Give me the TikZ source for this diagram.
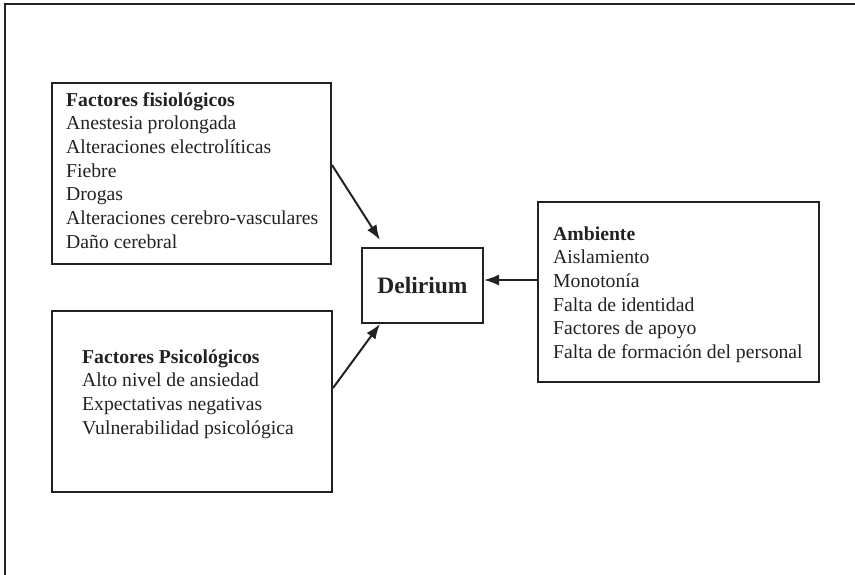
\documentclass[tikz,border=0pt]{standalone}
\usepackage{fontspec}
\setmainfont{Liberation Serif}
\usetikzlibrary{arrows.meta}

\definecolor{ink}{HTML}{222222}

\tikzset{
  panel/.style={draw=ink, line width=2pt, rectangle, inner sep=0pt, anchor=north west},
  % anchored at the baseline of the last line
  listtext/.style={anchor=base west, align=left, inner sep=0pt, text=ink,
    font=\fontsize{19.7}{23.7}\selectfont},
  centre/.style={text=ink, inner sep=0pt, font=\fontsize{23.5}{28}\selectfont\bfseries},
  link/.style={draw=ink, line width=2pt, -{Latex[length=15pt,width=11pt]}},
}

\begin{document}
\begin{tikzpicture}[x=1pt, y=-1pt]
  \useasboundingbox (0,0) rectangle (855,574);

  % frame: top and left sides
  \draw[ink, line width=2.5pt] (860,4) -- (5,4) -- (5,580);

  % boxes
  \node[panel, minimum width=279pt, minimum height=181pt] (fis) at (51,82) {};
  \node[panel, minimum width=280pt, minimum height=181pt] (psi) at (51,310) {};
  \node[panel, minimum width=281pt, minimum height=180pt] (amb) at (537,201) {};
  \node[panel, minimum width=121pt, minimum height=75pt] (deli) at (361,247) {};

  % contents
  \node[centre] (delitxt) at (deli.center) {Delirium};

  \node[listtext] (fistxt) at (66,248.2) {\textbf{Factores fisiológicos}\\
    Anestesia prolongada\\
    Alteraciones electrolíticas\\
    Fiebre\\
    Drogas\\
    Alteraciones cerebro-vasculares\\
    Daño cerebral};

  \node[listtext] (psitxt) at (82,434.1) {\textbf{Factores Psicológicos}\\
    Alto nivel de ansiedad\\
    Expectativas negativas\\
    Vulnerabilidad psicológica};

  \node[listtext] (ambtxt) at (553,358.5) {\textbf{Ambiente}\\
    Aislamiento\\
    Monotonía\\
    Falta de identidad\\
    Factores de apoyo\\
    Falta de formación del personal};

  % connectors
  \draw[link] ([yshift=-83pt]fis.north east) -- ([xshift=19pt,yshift=7pt]deli.north west);
  \draw[link] ([yshift=-78pt]psi.north east) -- ([xshift=19pt]deli.south west);
  \draw[link] ([yshift=-79pt]amb.north west) -- ([yshift=-33pt]deli.north east);
\end{tikzpicture}
\end{document}
